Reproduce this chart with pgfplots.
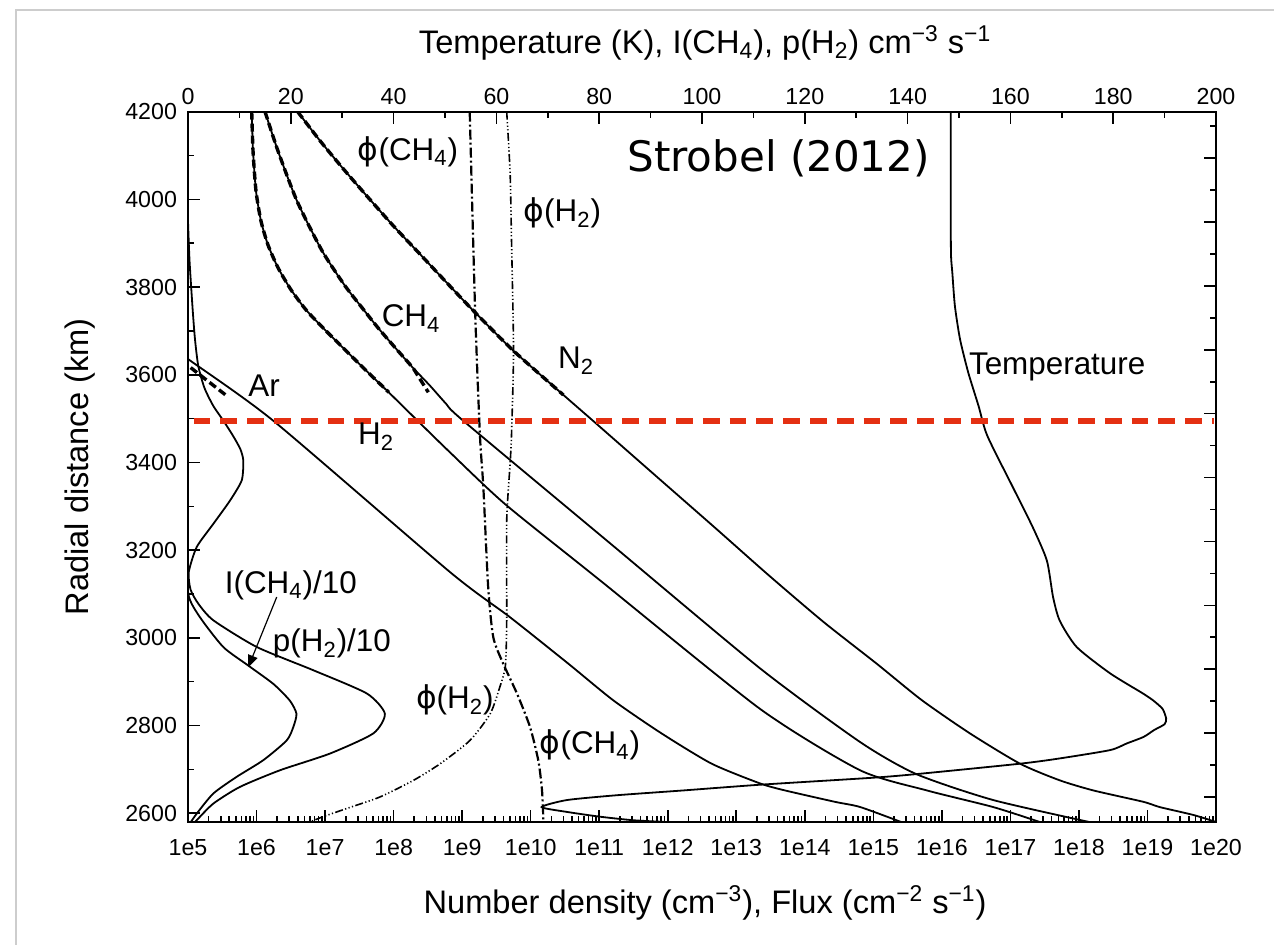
\documentclass[border=0pt]{standalone}
\usepackage{fontspec}
\setmainfont{Liberation Sans}
\newfontfamily\dejavu{DejaVu Sans}
\usepackage{pgfplots}
\pgfplotsset{compat=1.18}
\usetikzlibrary{arrows.meta}
\definecolor{dashred}{RGB}{228,48,18}
\definecolor{framegray}{RGB}{205,205,205}
\newcommand{\phisym}{{\dejavu ϕ}}
\newcommand{\lf}{\fontsize{15.7}{18}\selectfont}
\newcommand{\af}{\fontsize{16.3}{19}\selectfont}
\begin{document}
\begin{tikzpicture}
\path[use as bounding box] (-94pt,-61.5pt) rectangle (543pt,411pt);
\draw[framegray, line width=1.2pt] (-86pt,-70pt) -- (-86pt,406pt) -- (550pt,406pt);
\pgfplotsset{
  common/.style={at={(0pt,0pt)}, anchor=south west, scale only axis,
    width=514pt, height=355.15pt, ymin=2580, ymax=4200,
    tick align=inside, major tick length=6pt, minor tick length=3pt,
    every tick/.style={black, line width=0.8pt},
    axis line style={line width=1pt},
    tick label style={font=\fontsize{11.6}{14}\selectfont},
    /pgf/number format/assume math mode=true},
  solidc/.style={black, line width=0.9pt, smooth, tension=0.4, mark=none},
  dashc/.style={black, line width=1.7pt, dash pattern=on 4pt off 2pt, smooth, tension=0.4, mark=none},
}
% ---------------- bottom (log) axis : densities and fluxes
\begin{axis}[common, xmode=log, xmin=1e5, xmax=1e20,
  xtick={1e5,1e6,1e7,1e8,1e9,1e10,1e11,1e12,1e13,1e14,1e15,1e16,1e17,1e18,1e19,1e20},
  xticklabels={1e5,1e6,1e7,1e8,1e9,1e10,1e11,1e12,1e13,1e14,1e15,1e16,1e17,1e18,1e19,1e20},
  xtick pos=left, ytick pos=left,
  ytick={2600,2800,3000,3200,3400,3600,3800,4000,4200},
  yticklabels={2600,2800,3000,3200,3400,3600,3800,4000,4200},
  minor ytick={2700,2900,3100,3300,3500,3700,3900,4100},
  xticklabel style={yshift=-5pt}, yticklabel style={xshift=-2pt},
  xlabel={Number density (cm\textsuperscript{−3}), Flux (cm\textsuperscript{−2} s\textsuperscript{−1})},
  xlabel style={at={(axis description cs:0.503,-0.114)}, anchor=center, font=\af},
  ylabel={Radial distance (km)},
  ylabel style={at={(axis description cs:-0.105,0.5)}, anchor=center, font=\af},
]
% N2
\addplot[solidc] coordinates {(3.98e6,4200) (8.51e6,4133) (1.86e7,4069) (4.27e7,4004) (1.0e8,3939) (2.43e8,3875) (5.96e8,3810) (1.46e9,3746) (5.58e9,3655) (3.0e10,3554) (8.13e10,3495) (5.51e11,3381) (5.07e12,3249) (2.91e13,3144) (1.85e14,3037) (1.12e15,2941) (5.08e15,2858) (2.57e16,2782) (1.38e17,2713) (5.25e17,2675) (1.62e18,2652) (8.71e18,2626) (1.51e19,2614) (4.68e19,2596) (1.0e20,2580)};
\addplot[dashc] coordinates {(3.98e6,4200) (8.51e6,4133) (1.86e7,4069) (4.27e7,4004) (1.0e8,3939) (2.43e8,3875) (5.96e8,3810) (1.46e9,3746) (5.58e9,3655) (3.0e10,3554)};
% CH4
\addplot[solidc] coordinates {(1.33e6,4200) (2.06e6,4110) (3.90e6,3996) (9.02e6,3883) (1.95e7,3803) (3.46e7,3753) (5.93e7,3707) (1.05e8,3662) (1.86e8,3618) (3.40e8,3575) (5.82e8,3534) (1.04e9,3495) (1.51e11,3213) (2.24e13,2930) (6.46e14,2762) (4.27e15,2689) (5.62e16,2630) (1.62e18,2578)};
\addplot[dashc] coordinates {(1.33e6,4200) (2.06e6,4110) (3.90e6,3996) (9.02e6,3883) (1.95e7,3803) (3.46e7,3753) (5.93e7,3707) (1.05e8,3662) (1.86e8,3618) (2.30e8,3596) (3.21e8,3560)};
% H2
\addplot[solidc] coordinates {(8.51e5,4200) (8.89e5,4110) (9.82e5,4019) (1.16e6,3951) (1.47e6,3896) (2.06e6,3844) (3.18e6,3794) (5.27e6,3748) (9.33e6,3707) (1.71e7,3666) (3.83e7,3612) (8.87e7,3557) (2.05e8,3501) (6.65e8,3423) (4.23e9,3305) (1.05e11,3130) (2.22e13,2838) (6.40e14,2698) (6.03e15,2652) (5.62e16,2614) (2.69e17,2580)};
\addplot[dashc] coordinates {(8.51e5,4200) (8.89e5,4110) (9.82e5,4019) (1.16e6,3951) (1.47e6,3896) (2.06e6,3844) (3.18e6,3794) (5.27e6,3748) (9.33e6,3707) (1.71e7,3666) (3.83e7,3612) (8.5e7,3560)};
% Ar
\addplot[solidc] coordinates {(6.31e4,3664) (1.0e5,3636) (1.76e6,3495) (6.65e8,3150) (5.0e9,3047) (3.55e10,2941) (1.62e11,2857) (8.13e11,2782) (4.37e12,2713) (2.22e13,2668) (5.13e13,2652) (2.75e14,2626) (6.46e14,2614) (2.75e15,2578)};
\addplot[dashc] coordinates {(7.94e4,3633) (1.0e5,3621) (3.67e5,3552)};
% phi(CH4)
\addplot[black, line width=1.1pt, dash pattern=on 5pt off 1.5pt on 1pt off 1.5pt, smooth, tension=0.4, mark=none] coordinates {(1.29e9,4200) (1.55e9,3742) (1.82e9,3461) (2.04e9,3343) (2.40e9,3115) (2.85e9,3001) (3.98e9,2941) (6.31e9,2873) (9.77e9,2797) (1.29e10,2721) (1.45e10,2660) (1.51e10,2614) (1.53e10,2580)};
% phi(H2)
\addplot[black, line width=0.8pt, dash pattern=on 4pt off 1.2pt on 0.6pt off 1.2pt on 0.6pt off 1.2pt on 0.6pt off 1.2pt, smooth, tension=0.4, mark=none] coordinates {(4.47e9,4200) (5.01e9,4061) (5.25e9,3909) (5.62e9,3655) (5.25e9,3461) (5.01e9,3397) (4.47e9,3267) (4.47e9,3040) (4.27e9,2935) (3.55e9,2888) (2.57e9,2827) (1.30e9,2766) (4.79e8,2713) (1.95e8,2675) (6.31e7,2637) (2.09e7,2611) (9.33e6,2592) (5.37e6,2577)};
\end{axis}
% ---------------- top (linear) axis : temperature and rates
\begin{axis}[common, xmin=0, xmax=200,
  axis x line*=top, axis y line*=right,
  xtick={0,20,40,60,80,100,120,140,160,180,200}, minor x tick num=1,
  ytick={2637,2782.7,2928.4,3074.1,3219.8,3365.5,3511.2,3656.9,3802.6,3948.3,4094},
  yticklabels={},
  minor ytick={2709.9,2855.6,3001.3,3147,3292.7,3438.4,3584.1,3729.8,3875.5,4021.2,4166.9},
  xlabel={Temperature (K), I(CH\textsubscript{4}), p(H\textsubscript{2}) cm\textsuperscript{−3} s\textsuperscript{−1}},
  xlabel style={at={(axis description cs:0.503,1.097)}, anchor=center, font=\af},
]
% Temperature
\addplot[solidc] coordinates {(148.4,4200) (148.4,3950) (148.45,3871) (148.7,3833) (149.2,3757) (150.2,3681) (151.8,3605) (153.8,3529) (155.5,3461) (160.5,3343) (164.4,3251) (167.1,3176) (168.3,3093) (169.6,3039) (172.9,2979) (179.4,2919) (185.8,2873) (187.8,2857) (189.6,2838) (190.3,2816) (190.0,2803) (188.0,2790) (185.9,2774) (182.6,2759) (179.4,2744) (169.6,2725) (161.9,2713) (142.4,2690) (133.3,2681) (111.3,2665) (96.4,2652) (83.4,2641) (73.7,2630) (68.8,2614) (73.7,2603) (80.2,2592) (86.6,2584) (93.1,2580)};
% I(CH4)/10
\addplot[solidc] coordinates {(0,3220) (0.06,3100) (2.33,3047) (6.87,2979) (11.7,2937) (16.6,2895) (19.8,2857) (21.1,2827) (20.5,2797) (19.2,2766) (14.65,2721) (9.47,2683) (4.93,2645) (1.69,2599) (0.4,2577)};
% p(H2)/10
\addplot[solidc] coordinates {(0,3950) (0.3,3860) (0.9,3750) (1.36,3681) (2.0,3620) (3.2,3570) (4.92,3529) (6.9,3495) (8.8,3460) (10.2,3430) (10.76,3404) (10.45,3359) (8.17,3313) (4.93,3260) (1.69,3207) (0.15,3150) (0.5,3110) (2.0,3078) (4.93,3040) (13.4,2979) (24.4,2926) (34.8,2873) (38.3,2827) (36.05,2782) (27.6,2736) (17.9,2698) (10.1,2660) (4.93,2622) (1.69,2584) (1.2,2578)};
% red dashed level
\addplot[dashred, line width=2.8pt, dash pattern=on 8.4pt off 5pt, mark=none] coordinates {(1.1,3494) (199.6,3494)};
% labels
\node[font=\lf] at (axis cs:42.8,4108) {\phisym(CH\textsubscript{4})};
\node[font=\lf] at (axis cs:72.8,3969) {\phisym(H\textsubscript{2})};
\node[font=\lf] at (axis cs:43.4,3728) {CH\textsubscript{4}};
\node[font=\lf] at (axis cs:75.5,3632) {N\textsubscript{2}};
\node[font=\lf] at (axis cs:14.8,3575) {Ar};
\node[font=\lf] at (axis cs:36.6,3459) {H\textsubscript{2}};
\node[font=\lf] at (axis cs:20.0,3120) {I(CH\textsubscript{4})/10};
\node[font=\lf] at (axis cs:28.0,2987) {p(H\textsubscript{2})/10};
\node[font=\lf] at (axis cs:51.9,2858) {\phisym(H\textsubscript{2})};
\node[font=\lf] at (axis cs:78.2,2755) {\phisym(CH\textsubscript{4})};
\node[font=\lf] at (axis cs:169.1,3618) {Temperature};
\node[font=\dejavu\fontsize{21}{25}\selectfont, anchor=base west, inner sep=0pt] at (axis cs:85.4,4064) {Strobel (2012)};
\draw[black, line width=0.6pt, -{Triangle[length=6pt,width=5pt]}] (axis cs:17.26,3093) -- (axis cs:11.73,2933);
\end{axis}
\end{tikzpicture}
\end{document}
